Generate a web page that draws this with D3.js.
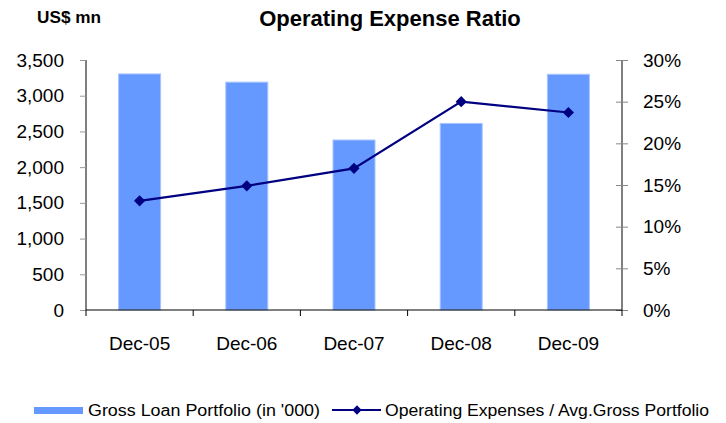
<!DOCTYPE html>
<html><head><meta charset="utf-8">
<script src="https://cdn.jsdelivr.net/npm/d3@7"></script>
<style>body{margin:0;background:#fff}svg{display:block;font-family:"Liberation Sans",Arial,sans-serif}</style>
</head><body><svg id="c" width="726" height="423"></svg>
<script>
const categories = ["Dec-05","Dec-06","Dec-07","Dec-08","Dec-09"];
const loanPortfolio = [3305, 3190, 2380, 2612, 3300];
const opexRatio = [13.1, 14.9, 17.0, 25.0, 23.7];
const leftTicks = [0,500,1000,1500,2000,2500,3000,3500];
const rightTicks = [0,5,10,15,20,25,30];

const svg = d3.select("#c");
const L = 86, R = 622, T = 60, B = 310;
const xb = d3.scaleBand().domain(categories).range([L, R]);
const yL = d3.scaleLinear().domain([0,3500]).range([B, T]);
const yR = d3.scaleLinear().domain([0,30]).range([B, T]);
const FS = 19;

// bars
svg.selectAll("rect.bar").data(loanPortfolio).join("rect")
  .attr("x",(d,i)=>xb(categories[i]) + xb.bandwidth()/2 - 21)
  .attr("width",42)
  .attr("y",d=>yL(d)).attr("height",d=>B-yL(d))
  .attr("fill","#6699FF").attr("stroke","#A8C4FF").attr("stroke-width",1);

// left axis
const gl = svg.append("g").attr("transform",`translate(${L},0)`)
  .call(d3.axisLeft(yL).tickValues(leftTicks).tickFormat(d3.format(",")).tickSize(6).tickPadding(16));
gl.select(".domain").attr("stroke","#000").attr("d",`M0,${T}V${B}`);
gl.selectAll(".tick line").attr("stroke","#999");
gl.selectAll(".tick text").attr("font-size",FS).attr("fill","#000").attr("font-family","Liberation Sans, Arial, sans-serif");

// right axis
const gr = svg.append("g").attr("transform",`translate(${R},0)`)
  .call(d3.axisRight(yR).tickValues(rightTicks).tickFormat(d=>d+"%").tickSize(6).tickPadding(15));
gr.select(".domain").attr("stroke","#000").attr("d",`M0,${T}V${B}`);
gr.selectAll(".tick line").attr("stroke","#888").attr("x1",-6);
gr.selectAll(".tick text").attr("font-size",FS).attr("fill","#000").attr("font-family","Liberation Sans, Arial, sans-serif");

// x axis
const gx = svg.append("g").attr("transform",`translate(0,${B})`)
  .call(d3.axisBottom(xb).tickSize(0).tickPadding(27));
gx.select(".domain").attr("stroke","#000").attr("d",`M${L},0H${R}`);
gx.selectAll(".tick text").attr("font-size",FS).attr("fill","#000").attr("font-family","Liberation Sans, Arial, sans-serif");
const bounds = categories.map(c=>xb(c)).concat([R]);
svg.append("g").selectAll("line").data(bounds).join("line")
  .attr("x1",d=>d).attr("x2",d=>d).attr("y1",B).attr("y2",B+6).attr("stroke","#000");

// line
const cx = (d,i)=>xb(categories[i]) + xb.bandwidth()/2;
svg.append("path").datum(opexRatio)
  .attr("d", d3.line().x(cx).y(d=>yR(d)))
  .attr("fill","none").attr("stroke","#000080").attr("stroke-width",2.2);
const diamond = d3.symbol().type(d3.symbolDiamond2).size(80);
svg.selectAll("path.mk").data(opexRatio).join("path")
  .attr("transform",(d,i)=>`translate(${cx(d,i)},${yR(d)})`)
  .attr("d", diamond()).attr("fill","#000080");

// titles
svg.append("text").attr("x",390).attr("y",26).attr("text-anchor","middle")
  .attr("font-size",22).attr("font-weight","bold").text("Operating Expense Ratio");
svg.append("text").attr("x",37).attr("y",23)
  .attr("font-size",16).attr("font-weight","bold").attr("textLength",64).attr("lengthAdjust","spacingAndGlyphs").text("US$ mn");

// legend
const lg = svg.append("g");
lg.append("rect").attr("x",34).attr("y",407).attr("width",49).attr("height",7).attr("fill","#6699FF");
lg.append("text").attr("x",88).attr("y",416).attr("font-size",16)
  .attr("textLength",232).attr("lengthAdjust","spacingAndGlyphs").text("Gross Loan Portfolio (in '000)");
lg.append("line").attr("x1",332).attr("x2",381).attr("y1",410).attr("y2",410).attr("stroke","#000080").attr("stroke-width",2);
lg.append("path").attr("transform","translate(357,410)").attr("d",d3.symbol().type(d3.symbolDiamond2).size(55)()).attr("fill","#000080");
lg.append("text").attr("x",385).attr("y",416).attr("font-size",16)
  .attr("textLength",324).attr("lengthAdjust","spacingAndGlyphs").text("Operating Expenses / Avg.Gross Portfolio");
</script></body></html>
